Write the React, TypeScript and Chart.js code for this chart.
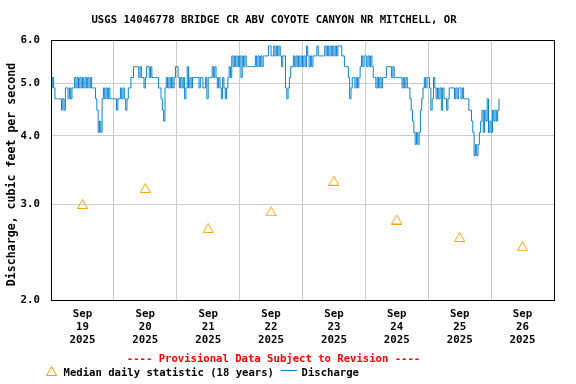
import React, { useEffect, useRef } from 'react';
import { Chart, registerables } from 'chart.js';

Chart.register(...registerables);

// ---- text ----
const TITLE = 'USGS 14046778 BRIDGE CR ABV COYOTE CANYON NR MITCHELL, OR';
const Y_TITLE = 'Discharge, cubic feet per second';
const PROVISIONAL = '---- Provisional Data Subject to Revision ----';
const LEGEND_MEDIAN = 'Median daily statistic (18 years)';
const LEGEND_DISCHARGE = 'Discharge';

// ---- axis labels ----
const monthLabel = 'Sep';
const yearLabel = '2025';
const dayLabels = ['19', '20', '21', '22', '23', '24', '25', '26'];
const yTicks = [2.0, 3.0, 4.0, 5.0, 6.0];

// ---- median daily statistic (one per day, at noon) ----
const medianValues = [3.0, 3.21, 2.71, 2.91, 3.31, 2.81, 2.61, 2.51];

// ---- discharge, 30-minute readings starting at 00:00 each day ----
const sampleHours = 0.5;
const dischargeSep19 = [4.9, 5.12, 4.9, 4.68, 4.68, 4.68, 4.68, 4.68, 4.46, 4.68, 4.46, 4.9, 4.9, 4.68, 4.9, 4.68, 4.9, 4.9, 5.12, 4.9, 5.12, 4.9, 5.12, 4.9, 5.12, 4.9, 5.12, 4.9, 5.12, 4.9, 5.12, 4.9, 4.9, 4.9, 4.68, 4.46, 4.06, 4.26, 4.06, 4.68, 4.9, 4.68, 4.9, 4.68, 4.9, 4.68, 4.68, 4.68];
const dischargeSep20 = [4.68, 4.68, 4.46, 4.68, 4.68, 4.9, 4.68, 4.9, 4.68, 4.46, 4.68, 4.9, 4.9, 5.12, 5.12, 5.36, 5.36, 5.36, 5.36, 5.12, 5.36, 5.12, 5.12, 4.9, 5.12, 5.36, 5.36, 5.12, 5.36, 5.12, 5.12, 5.12, 5.12, 5.12, 4.9, 4.9, 4.68, 4.46, 4.26, 4.9, 5.12, 4.9, 5.12, 4.9, 5.12, 4.9, 5.12, 5.36];
const dischargeSep21 = [5.36, 5.12, 4.9, 5.12, 4.9, 5.12, 4.68, 4.9, 5.36, 4.9, 5.12, 4.9, 5.12, 5.12, 5.12, 5.12, 5.12, 4.9, 5.12, 5.12, 4.9, 4.9, 5.12, 4.68, 5.12, 5.12, 5.12, 5.36, 5.12, 5.36, 5.12, 4.9, 5.12, 4.9, 4.68, 5.12, 4.9, 4.68, 4.9, 5.12, 5.36, 5.12, 5.61, 5.36, 5.61, 5.36, 5.61, 5.36];
const dischargeSep22 = [5.61, 5.12, 5.61, 5.36, 5.61, 5.36, 5.36, 5.36, 5.36, 5.36, 5.36, 5.36, 5.61, 5.36, 5.61, 5.36, 5.61, 5.36, 5.61, 5.61, 5.61, 5.61, 5.85, 5.85, 5.61, 5.61, 5.85, 5.61, 5.85, 5.61, 5.85, 5.61, 5.36, 5.61, 5.61, 4.9, 4.68, 4.9, 5.12, 5.36, 5.36, 5.61, 5.36, 5.61, 5.36, 5.61, 5.36, 5.61];
const dischargeSep23 = [5.36, 5.61, 5.36, 5.85, 5.61, 5.36, 5.61, 5.36, 5.61, 5.61, 5.61, 5.85, 5.61, 5.61, 5.61, 5.61, 5.61, 5.85, 5.61, 5.85, 5.61, 5.85, 5.61, 5.85, 5.61, 5.85, 5.61, 5.85, 5.85, 5.85, 5.61, 5.61, 5.36, 5.36, 5.36, 5.12, 4.68, 4.9, 5.12, 5.12, 4.9, 5.12, 4.9, 5.12, 5.36, 5.61, 5.36, 5.61];
const dischargeSep24 = [5.61, 5.36, 5.61, 5.36, 5.61, 5.36, 5.12, 5.12, 4.9, 5.12, 4.9, 5.12, 4.9, 5.12, 5.12, 5.12, 5.36, 5.36, 5.36, 5.36, 5.12, 5.36, 5.12, 5.12, 5.12, 5.12, 5.12, 5.12, 4.9, 5.12, 4.9, 5.12, 4.9, 4.9, 4.68, 4.46, 4.26, 4.06, 3.86, 4.06, 3.86, 4.06, 4.46, 4.68, 4.9, 5.12, 4.9, 5.12];
const dischargeSep25 = [5.12, 4.9, 4.46, 4.68, 5.12, 4.9, 4.68, 4.9, 4.68, 4.9, 4.46, 4.9, 4.68, 4.68, 4.46, 4.68, 4.9, 4.9, 4.9, 4.9, 4.68, 4.9, 4.68, 4.9, 4.9, 4.68, 4.9, 4.68, 4.68, 4.68, 4.68, 4.46, 4.46, 4.26, 4.06, 3.68, 3.86, 3.68, 3.86, 4.06, 4.26, 4.46, 4.06, 4.46, 4.26, 4.68, 4.06, 4.26];
const dischargeSep26 = [4.06, 4.46, 4.26, 4.46, 4.26, 4.46, 4.68];

const dischargeDays = [dischargeSep19, dischargeSep20, dischargeSep21, dischargeSep22, dischargeSep23, dischargeSep24, dischargeSep25, dischargeSep26];

// ---- styles ----
const BLUE = '#0a84d2';
const ORANGE = '#f2a000';
const GRID = '#cccccc';
const FONT = '"DejaVu Sans Mono", "Liberation Mono", monospace';

function makeTriangle(): HTMLCanvasElement {
  const c = document.createElement('canvas');
  c.width = 11;
  c.height = 10;
  const g = c.getContext('2d')!;
  g.strokeStyle = ORANGE;
  g.lineWidth = 1;
  g.beginPath();
  g.moveTo(5.5, 0.5);
  g.lineTo(10.5, 9.5);
  g.lineTo(0.5, 9.5);
  g.closePath();
  g.stroke();
  return c;
}

export default function App() {
  const ref = useRef<HTMLCanvasElement>(null);

  useEffect(() => {
    const canvas = ref.current;
    if (!canvas) return;
    const tri = makeTriangle();

    const dischargePoints: { x: number; y: number }[] = [];
    dischargeDays.forEach((arr, d) => {
      arr.forEach((v, i) => dischargePoints.push({ x: d * 24 + i * sampleHours, y: v }));
    });
    const medianPoints = medianValues.map((v, d) => ({ x: d * 24 + 12, y: v }));

    const decor = {
      id: 'decor',
      afterDraw(chart: any) {
        const { ctx, chartArea: a } = chart;
        ctx.save();
        ctx.strokeStyle = '#000';
        ctx.lineWidth = 1;
        ctx.strokeRect(a.left + 0.5, a.top + 0.5, a.right - a.left, a.bottom - a.top);

        ctx.fillStyle = '#000';
        ctx.textAlign = 'center';
        ctx.textBaseline = 'middle';
        ctx.font = `bold 10.65px ${FONT}`;
        ctx.fillText(TITLE, 274, 20.5);

        ctx.save();
        ctx.translate(11.5, 174.5);
        ctx.rotate(-Math.PI / 2);
        ctx.font = `bold 11.6px ${FONT}`;
        ctx.fillText(Y_TITLE, 0, 0);
        ctx.restore();

        ctx.font = `bold 10.6px ${FONT}`;
        ctx.fillStyle = '#ff0000';
        ctx.fillText(PROVISIONAL, 273.5, 359);

        ctx.drawImage(tri, 46, 366);
        ctx.fillStyle = '#000';
        ctx.textAlign = 'left';
        ctx.fillText(LEGEND_MEDIAN, 63.5, 373);
        ctx.strokeStyle = BLUE;
        ctx.beginPath();
        ctx.moveTo(281, 370.5);
        ctx.lineTo(297, 370.5);
        ctx.stroke();
        ctx.fillText(LEGEND_DISCHARGE, 301.5, 373);
        ctx.restore();
      },
    };

    const tickFont = { family: FONT, size: 10.75, weight: 'bold' as const, lineHeight: 13 / 10.75 };

    const chart = new Chart(canvas, {
      type: 'line',
      data: {
        datasets: [
          {
            label: 'Median daily statistic (18 years)',
            data: medianPoints,
            showLine: false,
            pointStyle: tri as any,
            pointRadius: 5,
            borderColor: ORANGE,
            backgroundColor: 'rgba(0,0,0,0)',
            order: 1,
          },
          {
            label: 'Discharge',
            data: dischargePoints,
            borderColor: BLUE,
            borderWidth: 1,
            pointRadius: 0,
            stepped: true,
            fill: false,
            order: 2,
          },
        ],
      },
      options: {
        responsive: false,
        animation: false,
        events: [],
        layout: { padding: { left: 0, top: 40, right: 22, bottom: 0 } },
        plugins: {
          legend: { display: false },
          tooltip: { enabled: false },
          title: { display: false },
        },
        scales: {
          x: {
            type: 'linear',
            min: 0,
            max: 192,
            afterFit: (s: any) => {
              s.height = 84;
            },
            ticks: {
              stepSize: 12,
              autoSkip: false,
              maxRotation: 0,
              minRotation: 0,
              padding: 8,
              color: '#000',
              font: tickFont,
              callback: (value: any) => {
                const v = Number(value);
                if (v % 24 === 12) {
                  const d = Math.floor(v / 24);
                  return [monthLabel, dayLabels[d], yearLabel];
                }
                return '';
              },
            },
            grid: {
              drawTicks: false,
              lineWidth: 1,
              color: (ctx: any) => {
                const v = ctx.tick ? ctx.tick.value : -1;
                return v % 24 === 0 && v > 0 && v < 192 ? GRID : 'rgba(0,0,0,0)';
              },
            },
            border: { display: false },
          },
          y: {
            type: 'logarithmic',
            min: 2,
            max: 6,
            afterBuildTicks: (s: any) => {
              s.ticks = yTicks.map((v) => ({ value: v }));
            },
            afterFit: (s: any) => {
              s.width = 51;
            },
            ticks: {
              padding: 11,
              color: '#000',
              font: tickFont,
              autoSkip: false,
              callback: (value: any) => Number(value).toFixed(1),
            },
            grid: {
              drawTicks: false,
              lineWidth: 1,
              color: (ctx: any) => {
                const v = ctx.tick ? ctx.tick.value : -1;
                return v > 2 && v < 6 ? GRID : 'rgba(0,0,0,0)';
              },
            },
            border: { display: false },
          },
        },
      },
      plugins: [decor],
    });

    return () => chart.destroy();
  }, []);

  return (
    <div style={{ position: 'absolute', left: 0, top: 0, width: 576, height: 384, background: '#fff' }}>
      <canvas ref={ref} width={576} height={384} style={{ display: 'block' }} />
    </div>
  );
}
